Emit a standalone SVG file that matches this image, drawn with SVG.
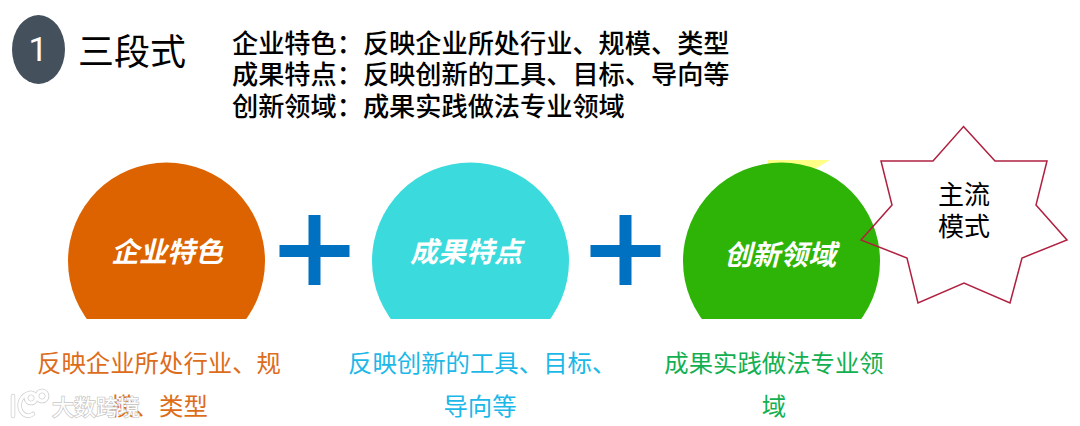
<svg xmlns="http://www.w3.org/2000/svg" width="1080" height="426" viewBox="0 0 1080 426">
<style>
text{font-family:"Noto Sans CJK SC","Liberation Sans",sans-serif}
.h{font-size:26.2px;font-weight:500;fill:#000}
.t{font-size:28px;font-weight:700;fill:#fff;font-style:italic;text-anchor:middle}
.d{font-size:24.4px;text-anchor:middle}
.plus{fill:#0070c0}
.w{fill:none;stroke:#fff;stroke-width:3;stroke-linecap:round}
.ws{fill:none;stroke:#cfcfcf;stroke-width:4.500;stroke-linecap:round}
</style>
<defs>
<clipPath id="c3"><rect x="0" y="0" width="1080" height="319"/></clipPath>
<path id="logo" d="M13 396V416M30 393C20 395 18 405 21 411C24 416 29 417 33 414M31 393a5 5 0 1 0 .1 0M42 391a5 5 0 1 0 .1 0"/>
</defs>
<rect width="1080" height="426" fill="#fff"/>
<g id="badge"><ellipse cx="38.500" cy="49.500" rx="26.500" ry="34.500" fill="#44505c"/><text x="38" y="61" font-size="34" fill="#fff" text-anchor="middle" style="font-family:'Roboto',sans-serif;font-weight:400">1</text></g>
<g id="title"><text x="78" y="65" font-size="36" fill="#000">三段式</text></g>
<g id="summary">
<text class="h" x="232" y="53">企业特色：反映企业所处行业、规模、类型</text>
<text class="h" x="232" y="84">成果特点：反映创新的工具、目标、导向等</text>
<text class="h" x="232" y="116">创新领域：成果实践做法专业领域</text>
</g>
<g id="node1"><circle cx="166.500" cy="261" r="98.500" fill="#dd6300" clip-path="url(#c3)"/><text class="t" x="167" y="262">企业特色</text></g>
<g id="plus1"><rect class="plus" x="279.500" y="245" width="70" height="12"/><rect class="plus" x="308.500" y="215" width="12" height="70"/></g>
<g id="node2"><circle cx="470.500" cy="261" r="98.500" fill="#3bdadd" clip-path="url(#c3)"/><text class="t" x="466" y="262">成果特点</text></g>
<g id="plus2"><rect class="plus" x="590.500" y="245" width="70" height="12"/><rect class="plus" x="619.500" y="215" width="12" height="70"/></g>
<g id="node3"><polygon points="768,160 830,160 813,170 768,170" fill="#ffff88"/><circle cx="781.500" cy="261" r="98.500" fill="#2db406" clip-path="url(#c3)"/><text class="t" x="780" y="265">创新领域</text></g>
<g id="star"><polygon points="963.500,126.500 995,161 1047,161 1036,205 1067,240 1022,258 1010,303 964,283 918,303 907,258 861,240 892,205 881,161 933,161" fill="none" stroke="#b02040" stroke-width="1.500"/><text x="964" y="204" font-size="26" text-anchor="middle">主流</text><text x="964" y="236" font-size="26" text-anchor="middle">模式</text></g>
<g id="desc1" fill="#dd6d1a"><text class="d" x="159" y="372">反映企业所处行业、规</text><text class="d" x="159" y="415">模、类型</text></g>
<g id="desc2" fill="#1cb8e8"><text class="d" x="348" y="372" style="text-anchor:start">反映创新的工具、目标、</text><text class="d" x="480" y="415">导向等</text></g>
<g id="desc3" fill="#12b050"><text class="d" x="774" y="372">成果实践做法专业领</text><text class="d" x="774" y="415">域</text></g>
<g id="watermark"><use href="#logo" class="ws"/><use href="#logo" class="w"/><text x="52" y="415" font-size="22" fill="#fff" stroke="#c8c8c8" stroke-width="1.500" paint-order="stroke">大数跨境</text></g>
</svg>
